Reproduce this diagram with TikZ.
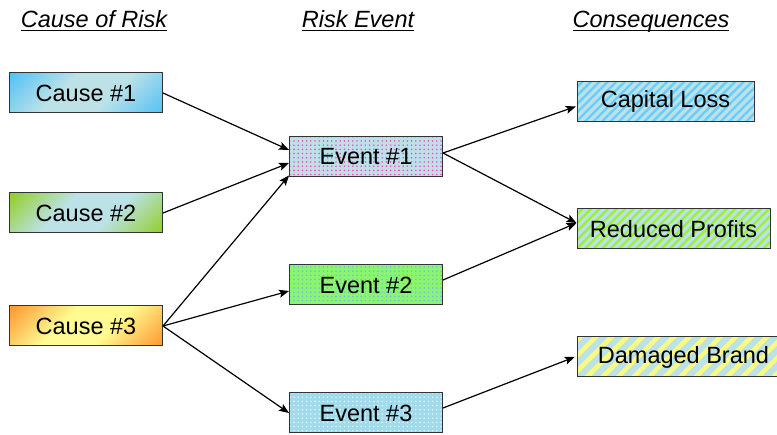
\documentclass[tikz,border=0pt]{standalone}
\usepackage{fontspec}
\setmainfont{Liberation Sans}
\usetikzlibrary{arrows.meta,patterns.meta}

\definecolor{paleblue}{RGB}{188,226,232}
\definecolor{skyblue}{RGB}{80,192,245}
\definecolor{leafgreen}{RGB}{145,205,35}
\definecolor{warmorange}{RGB}{255,148,45}
\definecolor{lightyellow}{RGB}{255,250,145}
\definecolor{dotpink}{RGB}{255,70,200}
\definecolor{brightgreen}{RGB}{140,245,110}
\definecolor{dotblue}{RGB}{110,190,235}
\definecolor{iceblue}{RGB}{160,218,235}
\definecolor{dotice}{RGB}{220,244,252}
\definecolor{stripeblue}{RGB}{105,205,255}
\definecolor{stripegreen}{RGB}{155,240,60}
\definecolor{stripeyellow}{RGB}{250,250,130}

% corner-to-corner shadings of the cause boxes
\newcommand{\cornershading}[3]{%
  \pgfdeclareverticalshading{#1}{100bp}{color(0bp)=(#2); color(14bp)=(#2);
    color(40bp)=(#3); color(60bp)=(#3); color(86bp)=(#2); color(100bp)=(#2)}}
\cornershading{bluecorners}{skyblue}{paleblue}
\cornershading{greencorners}{leafgreen}{paleblue}
\cornershading{orangecorners}{warmorange}{lightyellow}

% underlined heading text, one rule for every heading
\newcommand{\headrule}[1]{\setbox0\hbox{#1}\rlap{\rule[-3.5pt]{\wd0}{1.2pt}}\box0}

\tikzset{
  box/.style={draw=black!80, line width=1pt, minimum height=40pt, inner sep=0pt,
    font=\fontsize{23.5}{27}\selectfont},
  causebox/.style={box, minimum width=153pt, shading=#1, shading angle=45},
  eventbox/.style 2 args={box, minimum width=153pt, preaction={fill=#1},
    pattern={Dots[radius=0.9pt,distance=4.2pt]}, pattern color=#2},
  consbox/.style 2 args={box, preaction={fill=paleblue},
    pattern={Lines[angle=45,distance=6pt,line width=2.4pt]}, pattern color=#1,
    minimum width=#2},
  heading/.style={anchor=base, font=\fontsize{23.5}{27}\selectfont\itshape},
  link/.style={line width=1.2pt, -{Stealth[length=10pt,width=8pt,inset=2pt]}}
}

\begin{document}
\begin{tikzpicture}[x=1pt,y=-1pt]
  \useasboundingbox (0,0) rectangle (777,435);

  % Column headings
  \node[heading] (hcause) at (94,28) {\headrule{Cause of Risk}};
  \node[heading] (hevent) at (358,28) {\headrule{Risk Event}};
  \node[heading] (hcons) at (651,28) {\headrule{Consequences}};

  % Causes
  \node[causebox=bluecorners] (cause1) at (86,93) {Cause \#1};
  \node[causebox=greencorners] (cause2) at (86,213) {Cause \#2};
  \node[causebox=orangecorners] (cause3) at (86,326) {Cause \#3};

  % Risk events
  \node[eventbox={paleblue}{dotpink}] (event1) at (366,157) {Event \#1};
  \node[eventbox={brightgreen}{dotblue}] (event2) at (366,285) {Event \#2};
  \node[eventbox={iceblue}{dotice}] (event3) at (366,413) {Event \#3};

  % Consequences
  \node[consbox={stripeblue}{177pt}] (loss) at (665.5,101.5) {Capital Loss};
  \node[consbox={stripegreen}{193pt}] (profits) at (673.5,229) {Reduced Profits};
  \node[consbox={stripeyellow}{213pt},
    pattern={Lines[angle=45,distance=11pt,line width=4.5pt]}] (brand) at (683.5,357) {Damaged Brand};

  % Causes to events
  \draw[link] (cause1.east) -- ([yshift=7pt]event1.west);
  \draw[link] (cause2.east) -- ([yshift=-6pt]event1.west);
  \draw[link] (cause3.east) -- ([yshift=2pt]event1.south west);
  \draw[link] (cause3.east) -- ([yshift=-6pt]event2.west);
  \draw[link] (cause3.east) -- (event3.west);

  % Events to consequences
  \draw[link] ([yshift=4pt]event1.east) -- ([yshift=-5pt]loss.west);
  \draw[link] ([yshift=4pt]event1.east) -- ([yshift=6pt]profits.west);
  \draw[link] ([yshift=5pt]event2.east) -- ([yshift=6pt]profits.west);
  \draw[link] ([yshift=5pt]event3.east) -- (brand.west);
\end{tikzpicture}
\end{document}
